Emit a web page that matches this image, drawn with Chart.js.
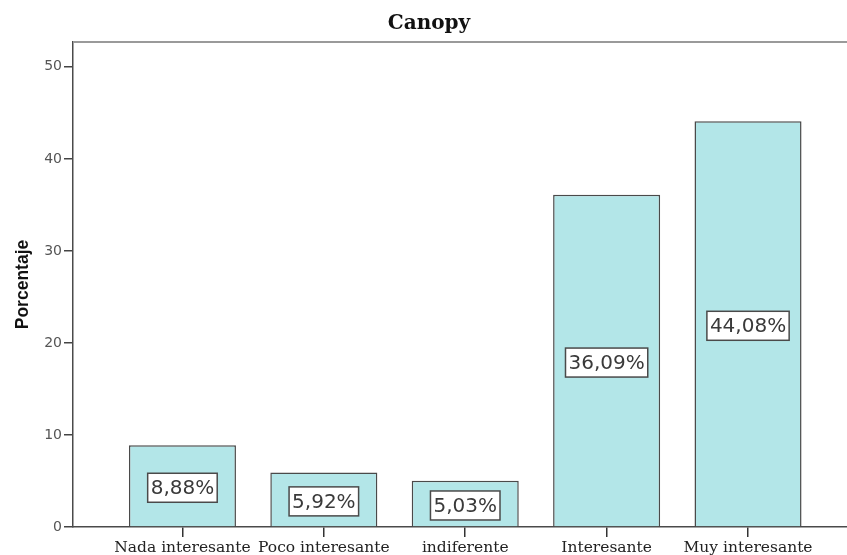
<!DOCTYPE html>
<html>
<head>
<meta charset="utf-8">
<script src="https://cdn.jsdelivr.net/npm/chart.js@4/dist/chart.umd.min.js"></script>
<style>
  html, body { margin: 0; padding: 0; background: #fff; overflow: hidden; }
  #wrap { width: 847px; height: 555px; }
</style>
</head>
<body>
<div id="wrap"><canvas id="barChart"></canvas></div>
<script>
const categories = ['Nada interesante', 'Poco interesante', 'indiferente', 'Interesante', 'Muy interesante'];
const percentages = [8.88, 5.92, 5.03, 36.09, 44.08];
const valueLabels = ['8,88%', '5,92%', '5,03%', '36,09%', '44,08%'];
const yTicks = [0, 10, 20, 30, 40, 50];

const barColor = '#b3e6e8';
const lineColor = '#4a4a4a';

// SPSS style: light grey frame line on top of the plot area
const topFrame = {
  id: 'topFrame',
  afterDraw(chart) {
    const { ctx, chartArea } = chart;
    ctx.save();
    ctx.strokeStyle = '#9a9a9a';
    ctx.lineWidth = 2;
    ctx.beginPath();
    ctx.moveTo(chartArea.left, chartArea.top);
    ctx.lineTo(chart.width, chartArea.top);
    ctx.stroke();
    ctx.restore();
  }
};

// boxed percentage labels in the middle of each bar
const boxLabels = {
  id: 'boxLabels',
  afterDatasetsDraw(chart) {
    const { ctx } = chart;
    const meta = chart.getDatasetMeta(0);
    ctx.save();
    ctx.font = "20px 'DejaVu Sans'";
    ctx.textAlign = 'center';
    ctx.textBaseline = 'middle';
    meta.data.forEach((bar, i) => {
      const text = valueLabels[i];
      const w = ctx.measureText(text).width + 6;
      const h = 29;
      const cx = bar.x;
      const cy = (bar.y + bar.base) / 2 + 2;
      ctx.fillStyle = '#ffffff';
      ctx.fillRect(cx - w / 2, cy - h / 2, w, h);
      ctx.strokeStyle = lineColor;
      ctx.lineWidth = 1.5;
      ctx.strokeRect(cx - w / 2, cy - h / 2, w, h);
      ctx.fillStyle = '#3a3a3a';
      ctx.fillText(text, cx, cy + 1);
    });
    ctx.restore();
  }
};

const ctx = document.getElementById('barChart').getContext('2d');
new Chart(ctx, {
  type: 'bar',
  data: {
    datasets: [{
      label: 'Porcentaje',
      data: categories.map((c, i) => ({ x: i, y: percentages[i] })),
      backgroundColor: barColor,
      borderColor: lineColor,
      borderWidth: 1.5,
      borderSkipped: 'bottom',
      categoryPercentage: 1,
      barPercentage: 0.757
    }]
  },
  options: {
    responsive: true,
    maintainAspectRatio: false,
    animation: false,
    layout: { padding: { left: 11, right: 0, top: 0, bottom: 0 } },
    plugins: {
      legend: { display: false },
      tooltip: { enabled: false },
      title: {
        display: true,
        text: 'Canopy',
        color: '#111',
        font: { family: "'DejaVu Serif'", size: 20, weight: 'bold', lineHeight: 1.2 },
        padding: { top: 12, bottom: 6 }
      }
    },
    scales: {
      x: {
        type: 'linear',
        offset: false,
        min: -0.774,
        max: 4.70,
        afterBuildTicks: s => { s.ticks = categories.map((c, i) => ({ value: i })); },
        afterFit: s => { s.height = 28; },
        border: { display: true, color: lineColor, width: 1.5 },
        grid: { offset: false, drawOnChartArea: false, drawTicks: true, tickLength: 10, color: '#333', lineWidth: 1.5 },
        ticks: {
          autoSkip: false,
          maxRotation: 0,
          minRotation: 0,
          padding: 2,
          color: '#222',
          font: { family: "'DejaVu Serif'", size: 15.5 },
          callback: v => categories[v]
        }
      },
      y: {
        min: 0,
        max: 52.7,
        afterBuildTicks: s => { s.ticks = yTicks.map(v => ({ value: v })); },
        afterFit: s => { s.width = 62; },
        border: { display: true, color: lineColor, width: 1.5 },
        grid: { drawOnChartArea: false, drawTicks: true, tickLength: 9, color: '#444', lineWidth: 1.5 },
        ticks: {
          padding: 2,
          color: '#555',
          font: { family: "'DejaVu Sans'", size: 14 }
        },
        title: {
          display: true,
          text: 'Porcentaje',
          color: '#111',
          font: { family: "'Liberation Sans'", size: 17.5, weight: 'bold', lineHeight: 1.2 },
          padding: { top: 2, bottom: 0 }
        }
      }
    }
  },
  plugins: [topFrame, boxLabels]
});
</script>
</body>
</html>
